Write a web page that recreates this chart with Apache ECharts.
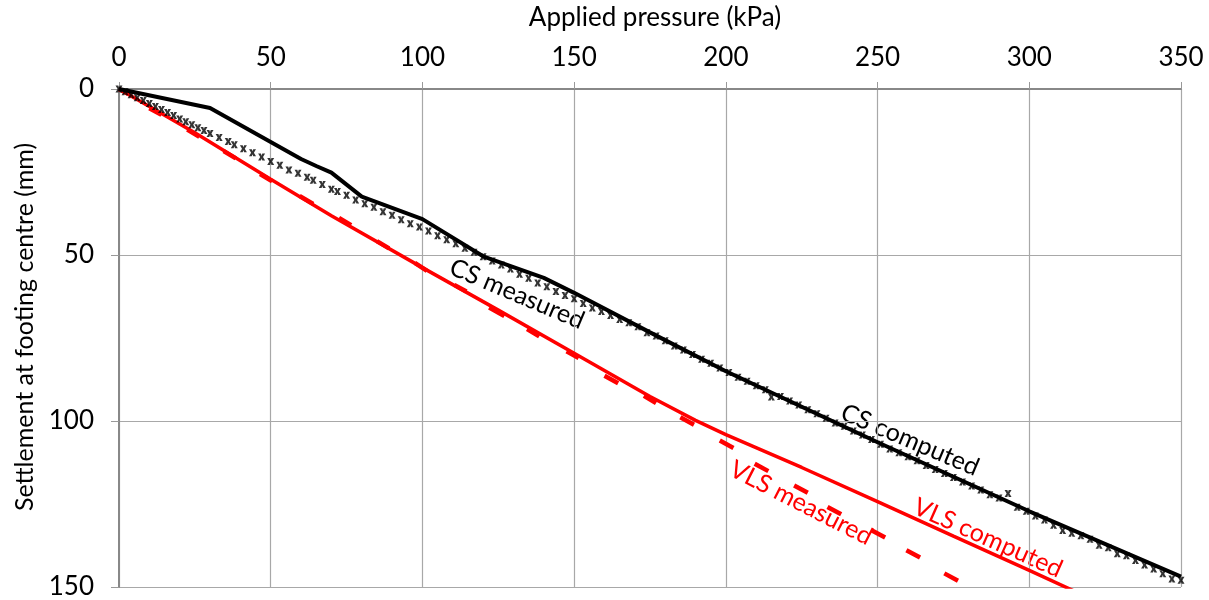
<!DOCTYPE html>
<html>
<head>
<meta charset="utf-8">
<title>Settlement vs applied pressure</title>
<script src="https://cdn.jsdelivr.net/npm/echarts@6/dist/echarts.min.js"></script>
<style>
  html, body { margin: 0; padding: 0; background: #fff; }
  #chart { width: 1209px; height: 600px; }
</style>
</head>
<body>
<div id="chart"></div>
<script>
// x: applied pressure (kPa), y: settlement (mm)
const xTicks = [0, 50, 100, 150, 200, 250, 300, 350];
const yTicks = [0, 50, 100, 150];

const csComputed = [
  [0, 0], [30, 5.7], [60, 21.1], [65, 23.2], [70, 25.2], [80, 32.4],
  [100, 39.2], [120, 50.4], [140, 56.9], [150, 61.4], [175, 73.3],
  [200, 85], [250, 106.4], [300, 127.2], [350, 146.9]
];

const csMeasured = [
  [0, 0], [2, 0.8], [4, 1.7], [6, 2.6], [8, 3.5], [10, 4.4], [12, 5.3], [14, 6.2],
  [16, 7.1], [18, 8], [20, 9], [22, 9.9], [24, 10.8], [26, 11.7], [28, 12.5],
  [30, 13.4], [33, 14.6], [36, 15.8], [38, 16.8], [41, 18], [44, 19.2], [47, 20.5],
  [50, 21.8], [53, 23], [56, 24.4], [59, 25.4], [62, 26.6], [64, 27.5], [67, 28.8],
  [70, 30.2], [72, 30.9], [75, 32], [78, 33.4], [81, 34.6], [84, 35.6], [87, 37],
  [90, 38], [93, 39.4], [96, 40.6], [99, 41.6], [102, 42.8], [105, 44.2], [108, 45.4],
  [111, 46.6], [114, 48], [117, 49.2], [120, 50.5], [123, 51.8], [126, 53], [129, 54.2],
  [132, 55.8], [135, 57], [138, 58.4], [141, 59.6], [144, 61], [147, 62.2], [150, 63.2],
  [153, 64.6], [156, 66], [159, 67], [162, 68.2], [165, 69.4], [168, 70.4], [171, 71.6],
  [174, 73.4], [177, 74.4], [180, 75.8], [183, 77.4], [186, 78.6], [189, 80], [192, 81.4],
  [195, 82.6], [198, 84], [201, 85.4], [204, 86.8], [207, 88], [210, 89.4], [213, 90.6],
  [215, 92.8], [218, 92.6], [221, 94], [224, 95.2], [227, 96.6], [230, 97.8], [233, 99.2],
  [236, 100.6], [239, 101.6], [242, 103], [245, 104.2], [248, 105.6], [251, 107],
  [254, 108.4], [257, 109.6], [260, 110.8], [263, 112], [266, 113.4], [269, 114.6],
  [272, 115.8], [275, 117], [278, 118.4], [281, 119.6], [284, 120.8], [287, 122.2],
  [290, 123.2], [293, 121.8], [296, 126], [299, 127.2], [302, 128.6], [305, 129.8],
  [308, 131.4], [311, 133], [314, 133.8], [317, 134.6], [320, 135.6], [323, 137.4],
  [326, 138.2], [329, 140], [332, 140.6], [335, 142], [338, 143.4], [341, 144.6],
  [344, 146], [347, 147.6], [350, 148]
];

const vlsComputed = [
  [0, 0], [25, 13.2], [50, 27.2], [70, 38.2], [100, 53.8], [125, 66.6],
  [150, 79.6], [175, 92.6], [190, 99.8], [200, 104.1], [225, 114],
  [250, 124.3], [275, 134.7], [300, 145], [315, 151.3]
];

// measured VLS points come in short clusters (one per load step), '-' breaks them
const vlsMeasured = [
  [0, 0], [3, 1.4], '-',
  [10, 5.8], [14, 7.8], '-',
  [22.5, 12.2], [26.5, 14.4], '-',
  [34.5, 18.7], [38.5, 20.9], '-',
  [46.5, 25.6], [50.5, 27.8], '-',
  [59.5, 32.2], [64, 34.6], '-',
  [72.5, 38.8], [76.5, 41], '-',
  [85, 45.8], [89, 48], '-',
  [97.5, 52.4], [101.5, 54.8], '-',
  [110.5, 59], [114.5, 61], '-',
  [122, 65.8], [127, 68.4], '-',
  [134.5, 72.3], [138.5, 74.5], '-',
  [147.5, 79], [151.5, 81], '-',
  [160, 86.4], [164.5, 88.6], '-',
  [173, 92.4], [177, 94.6], '-',
  [185, 98.9], [189.5, 101.1], '-',
  [198, 105.9], [202.5, 108.1], '-',
  [209.5, 112.9], [214, 115.1], '-',
  [222.5, 119.4], [227, 121.6], '-',
  [233.5, 125.9], [238, 128.1], '-',
  [248, 132.9], [252.5, 135.1], '-',
  [259.5, 138.9], [264, 141.1], '-',
  [272, 145.9], [276.5, 148.1]
];

const FONT = 'Lato';
const xMark = 'path://M0,0L4,0L5,3L6,0L10,0L7,5L10,10L6,10L5,7L4,10L0,10L3,5Z';

const chart = echarts.init(document.getElementById('chart'));

const label = (text, x, y, deg, color) => ({
  type: 'text',
  x: x,
  y: y,
  rotation: -deg * Math.PI / 180,
  style: {
    text: text,
    fill: color,
    font: '25px ' + FONT,
    align: 'center',
    verticalAlign: 'middle'
  }
});

const option = {
  animation: false,
  backgroundColor: '#fff',
  grid: { left: 119, right: 28, top: 89, bottom: 12 },
  xAxis: {
    type: 'value',
    position: 'top',
    min: xTicks[0],
    max: xTicks[xTicks.length - 1],
    interval: 50,
    name: 'Applied pressure (kPa)',
    nameLocation: 'middle',
    nameGap: 58,
    nameTextStyle: { fontFamily: FONT, fontSize: 26, color: '#000', padding: [0, 0, 0, 10] },
    axisLine: { show: true, lineStyle: { color: '#888', width: 2 } },
    axisTick: { show: true, length: 7, lineStyle: { color: '#999' } },
    axisLabel: { margin: 18, fontFamily: FONT, fontSize: 26, color: '#000' },
    splitLine: { show: true, lineStyle: { color: '#a8a8a8', width: 1.2 } }
  },
  yAxis: {
    type: 'value',
    inverse: true,
    min: yTicks[0],
    max: yTicks[yTicks.length - 1],
    interval: 50,
    name: 'Settlement at footing centre (mm)',
    nameLocation: 'middle',
    nameGap: 82,
    nameTextStyle: { fontFamily: FONT, fontSize: 25, color: '#000', padding: [0, 0, 0, 22] },
    axisLine: { show: true, lineStyle: { color: '#888', width: 2 } },
    axisTick: { show: true, length: 8, lineStyle: { color: '#999' } },
    axisLabel: { margin: 25, fontFamily: FONT, fontSize: 26, color: '#000' },
    splitLine: { show: true, lineStyle: { color: '#a8a8a8', width: 1.2 } }
  },
  series: [
    {
      name: 'VLS measured',
      type: 'line',
      data: vlsMeasured,
      showSymbol: false,
      connectNulls: false,
      lineStyle: { color: '#ff0000', width: 4.5 },
      z: 2
    },
    {
      name: 'VLS computed',
      type: 'line',
      data: vlsComputed,
      showSymbol: false,
      lineStyle: { color: '#ff0000', width: 3.5 },
      z: 3
    },
    {
      name: 'CS measured',
      type: 'scatter',
      data: csMeasured,
      symbol: xMark,
      symbolSize: 7,
      itemStyle: { color: '#000' },
      z: 4
    },
    {
      name: 'CS computed',
      type: 'line',
      data: csComputed,
      showSymbol: false,
      lineStyle: { color: '#000', width: 4 },
      z: 5
    }
  ],
  graphic: [
    label('CS measured', 517, 294, 23, '#000'),
    label('CS computed', 910, 440, 23, '#000'),
    label('VLS measured', 801, 503, 27, '#ff0000'),
    label('VLS computed', 988, 538, 24, '#ff0000')
  ]
};

option && chart.setOption(option);
</script>
</body>
</html>
